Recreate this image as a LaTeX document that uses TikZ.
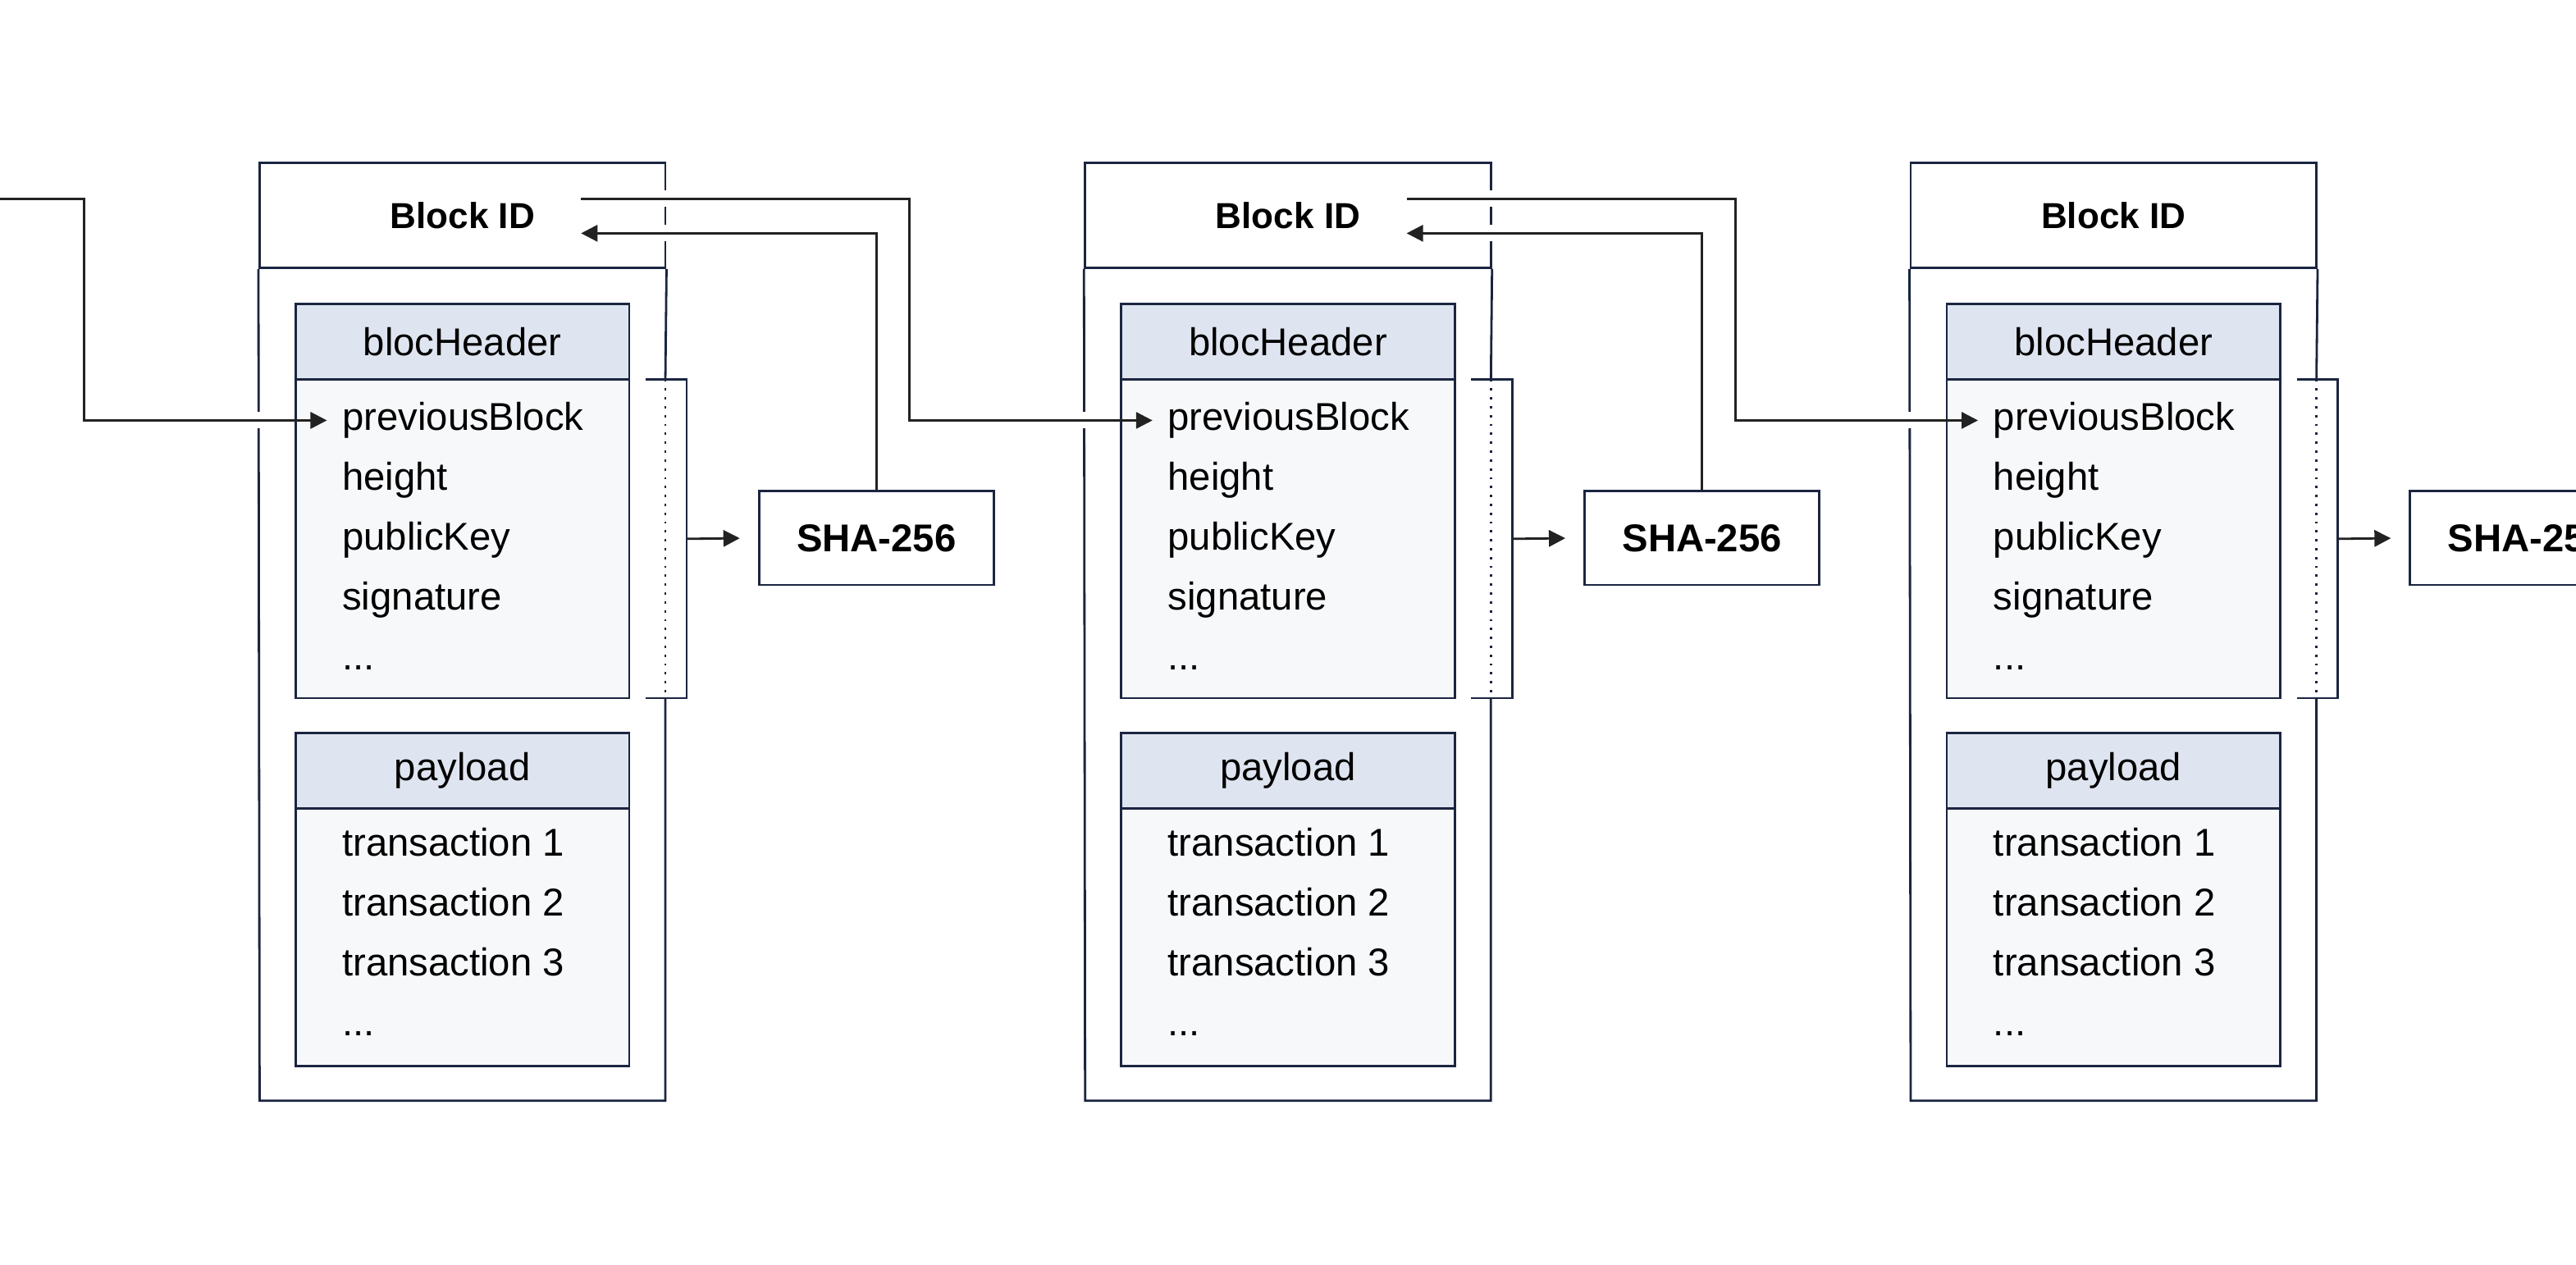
\documentclass[tikz,border=0pt]{standalone}
\usepackage{fontspec}
\setmainfont{Liberation Sans}
\usetikzlibrary{calc,arrows.meta,positioning}
\definecolor{edge}{HTML}{1B2540}
\definecolor{bandfill}{HTML}{DFE5F0}
\definecolor{panefill}{HTML}{F7F8FA}
\definecolor{wire}{HTML}{222222}
\newcommand{\labelsize}{\fontsize{11.8pt}{14pt}\selectfont}
\newcommand{\fieldgap}{18.2}
\tikzset{>={Triangle[length=5pt,width=5pt]}}
\tikzset{
  frame/.style   = {draw=edge, line width=0.7pt},
  idbox/.style   = {frame, minimum width=123.5pt, minimum height=32pt, inner sep=0pt,
                    font=\fontsize{11pt}{13pt}\selectfont\bfseries},
  band/.style    = {frame, fill=bandfill, minimum width=101.5pt, minimum height=23pt,
                    inner sep=0pt, font=\labelsize},
  pane/.style    = {frame, fill=panefill, minimum width=101.5pt, inner sep=0pt},
  field/.style   = {inner sep=0pt, anchor=base west, font=\labelsize},
  hashbox/.style = {frame, minimum width=71.5pt, minimum height=28.5pt, inner sep=0pt,
                    font=\labelsize\bfseries},
  link/.style    = {draw=wire, line width=0.7pt, ->,
                    preaction={draw=white, line width=5pt, -, shorten >=12pt, shorten <=1pt}}
}

\begin{document}
\begin{tikzpicture}[x=1pt,y=1pt]
  \useasboundingbox (0,0) rectangle (784,-385);
  \foreach \i/\x in {1/0,2/251.25,3/502.5} {
    % block frame with its id row
    \node[idbox] (id\i) at (\x+140.75,-65.5) {Block ID};
    \draw[frame] (id\i.south east) -- (\x+202.5,-115.5);
    \draw[frame, dotted] (\x+202.5,-115.5) -- (\x+202.5,-212.5);
    \draw[frame] (\x+202.5,-212.5) -- (\x+202.5,-335) -- (\x+79,-335) -- (id\i.south west);
    % header table
    \node[band] (hdr\i) at (\x+140.75,-104) {blocHeader};
    \node[pane, minimum height=97pt] (hbody\i) at (\x+140.75,-164) {};
    \foreach \name [count=\k] in {previousBlock,height,publicKey,signature}
      \node[field] (hf\i-\k) at (\x+104,-131-\fieldgap*\k+\fieldgap) {\name};
    \node[field] (hf\i-5) at (\x+104,-131-\fieldgap*4) {...};
    % payload table
    \node[band] (pay\i) at (\x+140.75,-234.5) {payload};
    \node[pane, minimum height=78.5pt] (pbody\i) at (\x+140.75,-285.25) {};
    \foreach \name [count=\k] in {transaction 1,transaction 2,transaction 3}
      \node[field] (pf\i-\k) at (\x+104,-260.5-\fieldgap*\k+\fieldgap) {\name};
    \node[field] (pf\i-4) at (\x+104,-260.5-\fieldgap*3) {...};
    % bracket over the header and hash
    \draw[frame] (\x+196.5,-115.5) -| (\x+209,-212.5) -- (\x+196.5,-212.5);
    \coordinate (brk\i) at (\x+209,-164);
    \node[hashbox] (sha\i) at (\x+266.75,-163.75) {SHA-256};
    \draw[draw=wire, line width=0.7pt, ->, shorten >=5.5pt] (brk\i) -- (sha\i.west);
  }
  % chain links
  \coordinate (in) at (0,-60.5);
  \draw[link] (in) -- ++(25.5,0) |- ([xshift=-4.5pt]hf1-1.west);
  \foreach \i/\j in {1/2,2/3} {
    \draw[link] ($(id\i.east)+(-26,5)$) -- ++(100,0) |- ([xshift=-4.5pt]hf\j-1.west);
    \draw[link] (sha\i.north) |- ($(id\i.east)+(-26,-5.5)$);
  }
\end{tikzpicture}
\end{document}
